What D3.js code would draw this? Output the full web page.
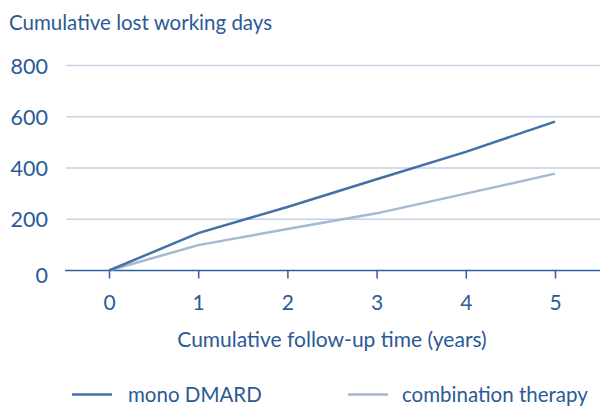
<!DOCTYPE html>
<meta charset="utf-8">
<style>
body { margin: 0; background: #fff; }
text { font-family: Lato, "Open Sans", sans-serif; fill: #2b5a96; }
</style>
<body>
<script src="https://d3js.org/d3.v7.min.js"></script>
<script>

var width = 600,
    height = 407;

// values
var years = [0, 1, 2, 3, 4, 5];
var monoDmard = [0, 146, 248, 356, 463, 581];
var combination = [0, 99, 162, 223, 300, 378];
var yTicks = [0, 200, 400, 600, 800];
var seriesNames = ["mono DMARD", "combination therapy"];

var darkBlue = "#4470a6",
    lightBlue = "#a4b9d2",
    gridColor = "#c3d2e4",
    axisColor = "#2f5f9d";

var svg = d3.select("body").append("svg")
    .attr("width", width)
    .attr("height", height);

var x = d3.scaleLinear().domain([0, 5]).range([109, 555]);
var y = d3.scaleLinear().domain([0, 800]).range([270.5, 65.5]);

// gridlines
svg.append("g")
  .selectAll("line")
    .data(yTicks.filter(function(d){ return d > 0; }))
  .enter().append("line")
    .attr("x1", 66)
    .attr("x2", width)
    .attr("y1", function(d){ return y(d); })
    .attr("y2", function(d){ return y(d); })
    .style("stroke", gridColor)
    .style("stroke-width", 1.5);

// y labels
svg.append("g")
  .selectAll("text")
    .data(yTicks)
  .enter().append("text")
    .attr("x", 48)
    .attr("y", function(d){ return y(d) + (d == 0 ? 12 : 8); })
    .attr("text-anchor", "end")
    .style("font-size", "21.5px")
    .text(function(d){ return d; });

// x axis
var xAxis = svg.append("g")
    .attr("transform", "translate(0," + y(0) + ")")
    .call(d3.axisBottom(x).tickValues(years).tickSize(8).tickPadding(17).tickFormat(d3.format("d")));
xAxis.select(".domain").remove();
xAxis.insert("line", ":first-child")
    .attr("x1", 65).attr("x2", width)
    .style("stroke", axisColor).style("stroke-width", 1.5);
xAxis.selectAll(".tick line").style("stroke", axisColor).style("stroke-width", 1.5);
xAxis.selectAll(".tick text")
    .style("font-size", "21px")
    .style("font-family", "Lato, sans-serif")
    .style("fill", "#2b5a96");

var line = d3.line()
    .x(function(d, i){ return x(years[i]); })
    .y(function(d){ return y(d); });

svg.append("path")
    .datum(combination)
    .attr("d", line)
    .style("fill", "none")
    .style("stroke", lightBlue)
    .style("stroke-width", 2.5);

svg.append("path")
    .datum(monoDmard)
    .attr("d", line)
    .style("fill", "none")
    .style("stroke", darkBlue)
    .style("stroke-width", 2.5);

// titles
svg.append("text")
    .attr("x", 9)
    .attr("y", 30)
    .style("font-size", "20.5px")
    .text("Cumulative lost working days");

svg.append("text")
    .attr("x", 332)
    .attr("y", 347)
    .attr("text-anchor", "middle")
    .style("font-size", "21px")
    .text("Cumulative follow-up time (years)");

// legend
var legendX = [72, 348];
var legendColors = [darkBlue, lightBlue];
var legend = svg.selectAll("g.legend")
    .data(seriesNames)
  .enter().append("g")
    .attr("class", "legend")
    .attr("transform", function(d, i){ return "translate(" + legendX[i] + ",394.5)"; });

legend.append("line")
    .attr("x1", 0).attr("x2", 40)
    .style("stroke", function(d, i){ return legendColors[i]; })
    .style("stroke-width", 2.5);

legend.append("text")
    .attr("x", function(d, i){ return i == 0 ? 56 : 54; })
    .attr("y", 7.5)
    .style("font-size", "20.5px")
    .text(function(d){ return d; });

</script>
